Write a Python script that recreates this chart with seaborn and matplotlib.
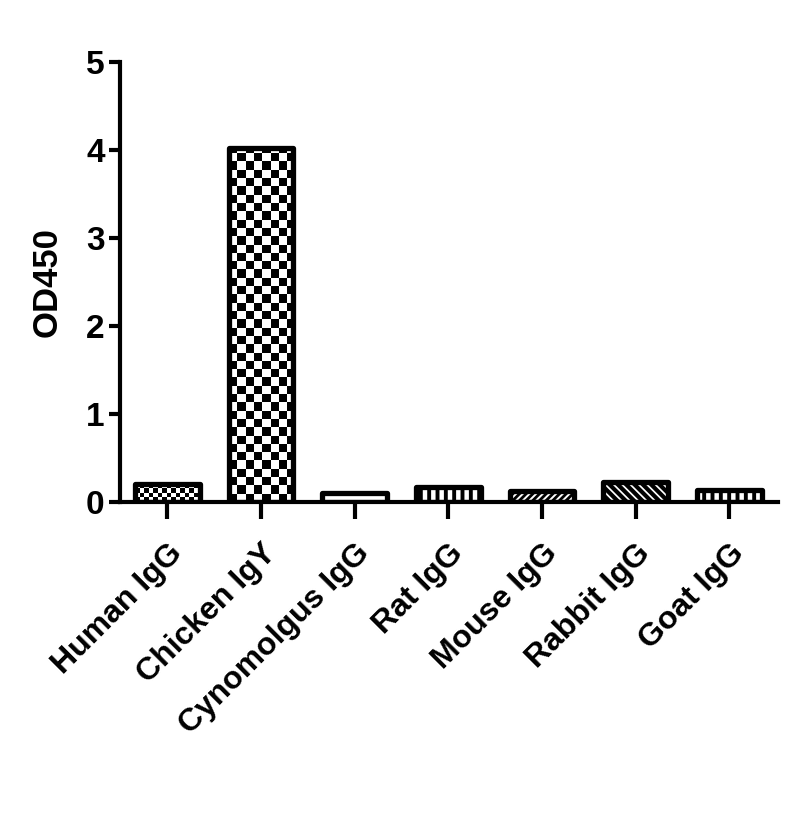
import numpy as np
import matplotlib
matplotlib.use("Agg")
import matplotlib.pyplot as plt
import seaborn as sns

categories = ["Human IgG", "Chicken IgY", "Cynomolgus IgG", "Rat IgG",
              "Mouse IgG", "Rabbit IgG", "Goat IgG"]
od450 = [0.21, 4.02, 0.10, 0.17, 0.13, 0.23, 0.14]
y_ticks = [0, 1, 2, 3, 4, 5]

sns.set_theme(style="ticks")
plt.rcParams['font.family'] = ['Liberation Sans', 'DejaVu Sans']
plt.rcParams['hatch.linewidth'] = 2.8
for k in ['text.color', 'axes.labelcolor', 'xtick.color', 'ytick.color']:
    plt.rcParams[k] = 'black'

W, H = 798, 815
fig = plt.figure(figsize=(W / 100, H / 100), dpi=100)
ax = fig.add_axes([120 / W, 313 / H, (778 - 120) / W, 440 / H])

sns.barplot(x=categories, y=od450, ax=ax, color="white", edgecolor="black",
            linewidth=3.8, width=0.69, saturation=1)

ax.set_ylim(0, 5)
ax.set_xlim(-0.505, 6.52)
ax.set_yticks(y_ticks)
ax.set_yticklabels([str(t) for t in y_ticks], fontsize=24, fontweight="bold")
ax.set_xticks(range(len(categories)))
ax.set_xticklabels(categories, rotation=45, ha="right", rotation_mode="anchor",
                   fontsize=23, fontweight="bold")
ax.tick_params(axis="x", length=12, width=3, pad=14, colors="black")
ax.tick_params(axis="y", length=8, width=3, pad=3, colors="black")
for s in ["top", "right"]:
    ax.spines[s].set_visible(False)
for s in ["left", "bottom"]:
    ax.spines[s].set_linewidth(3)
    ax.spines[s].set_color("black")
ax.set_ylabel("OD450", fontsize=25, fontweight="bold", labelpad=16, color="black")
ax.set_xlabel("")

hatches = [None, None, "", "||", "/////", "\\\\\\\\", "||"]
hatch_lw = [None, None, None, 2.8, 2.0, 3.0, 2.8]
checker_px = {0: 4.5, 1: 8.3}
patches = list(ax.patches)
fig.canvas.draw()
for i, p in enumerate(patches):
    p.set_joinstyle("round")
    p.set_capstyle("round")
    if i in checker_px:
        p.set_facecolor("none")
        x0, w, h = p.get_x(), p.get_width(), p.get_height()
        (px0, py0) = ax.transData.transform((x0, 0))
        (px1, py1) = ax.transData.transform((x0 + w, h))
        c = checker_px[i]
        nx = int(np.ceil((px1 - px0) / c))
        ny = int(np.ceil((py1 - py0) / c))
        arr = (np.add.outer(np.arange(ny), np.arange(nx)) % 2).astype(float)
        x1d = ax.transData.inverted().transform((px0 + nx * c, 0))[0]
        y1d = ax.transData.inverted().transform((0, py0 + ny * c))[1]
        im = ax.imshow(arr, extent=[x0, x1d, 0, y1d], origin="lower",
                       cmap="gray", interpolation="nearest", aspect="auto",
                       zorder=0.8)
        im.set_clip_path(p)
    else:
        if hatches[i]:
            p.set_hatch(hatches[i])
            if hasattr(p, "set_hatch_linewidth"):
                p.set_hatch_linewidth(hatch_lw[i])

ax.set_ylim(0, 5)
ax.set_xlim(-0.505, 6.52)

fig.savefig("out.png", dpi=100)
